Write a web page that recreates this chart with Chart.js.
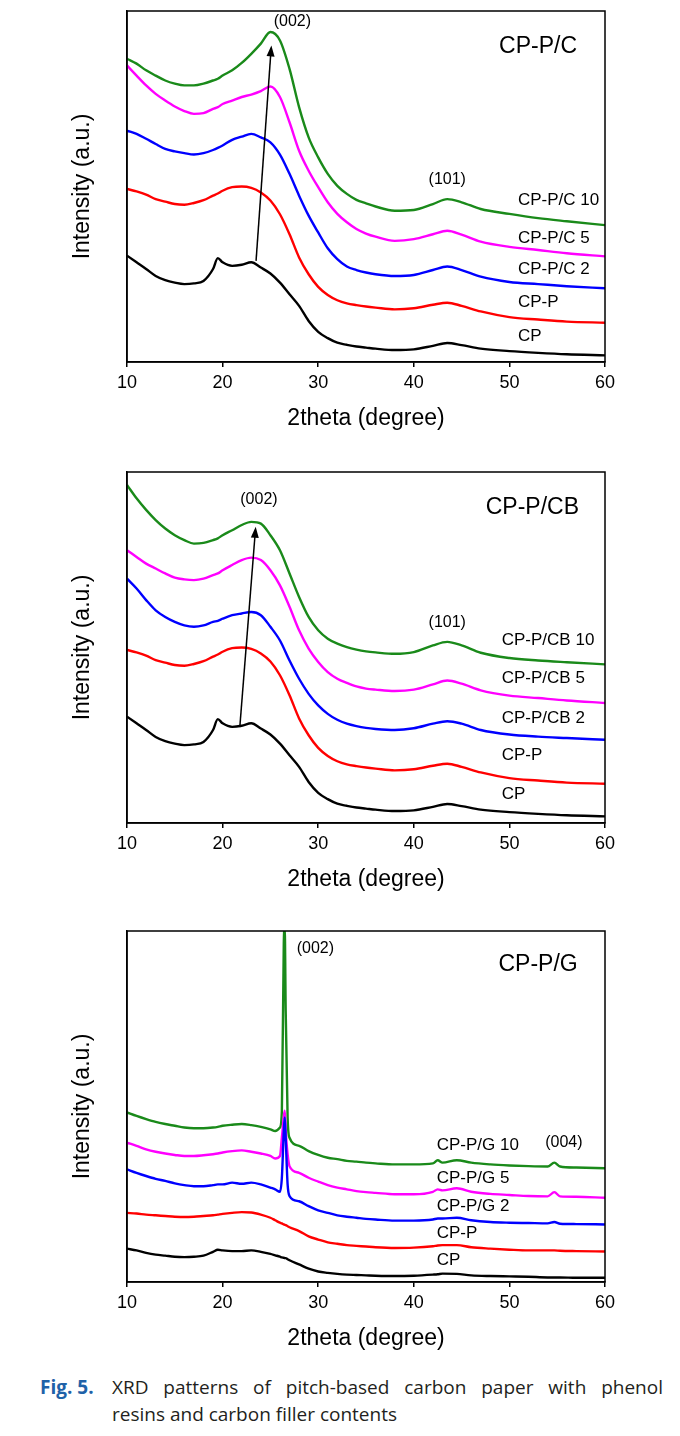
<!DOCTYPE html>
<html>
<head>
<meta charset="utf-8">
<script src="https://cdn.jsdelivr.net/npm/chart.js@4.4.1/dist/chart.umd.min.js"></script>
<style>
  html, body { margin: 0; padding: 0; background: #fff; }
  body { width: 680px; height: 1436px; position: relative; overflow: hidden; }
  .panel { position: absolute; left: 0; width: 680px; height: 440px; }
  .cap { position: absolute; font-family: "Open Sans", "Noto Sans", sans-serif; font-size: 19px; color: #231f20; white-space: nowrap; line-height: 22px; }
  .fig { left: 40px; top: 1376px; color: #1f62a8; font-weight: bold; }
  .line1 { left: 112px; top: 1376px; width: 551px; white-space: normal; text-align: justify; text-align-last: justify; }
  .line2 { left: 112px; top: 1403px; }
</style>
</head>
<body>
<div class="panel" style="top:0px"><canvas id="chartC" width="680" height="440"></canvas></div>
<div class="panel" style="top:461px"><canvas id="chartCB" width="680" height="440"></canvas></div>
<div class="panel" style="top:920px"><canvas id="chartG" width="680" height="440"></canvas></div>
<div class="cap fig">Fig. 5.</div>
<div class="cap line1">XRD patterns of pitch-based carbon paper with phenol</div>
<div class="cap line2">resins and carbon filler contents</div>

<script>
// ---------- data (intensity in arbitrary units, 0-100 per panel) ----------
const xTicks = [10, 20, 30, 40, 50, 60];

// 2theta grid for the CP-P/C and CP-P/CB panels
const theta = [10, 11, 12, 13, 14, 15, 16, 17, 18, 19, 19.5, 20, 21, 22, 23, 24, 25, 26, 27, 28,
  29, 30, 31, 32, 33, 34, 35, 36, 38, 40, 42, 43.5, 45, 47, 50, 53, 56, 60];

const cp = [30.3, 28.4, 26.5, 24.5, 23.3, 22.6, 22.2, 22.4, 23.1, 26.5, 29.6, 28.4, 27.4, 27.7, 28.4, 26.9, 25.2, 22.6, 19.3, 16.0,
  11.7, 8.6, 6.8, 5.5, 4.9, 4.4, 4.1, 3.8, 3.4, 3.6, 4.6, 5.4, 4.8, 3.8, 3.1, 2.6, 2.2, 1.9];
const cpP = [49.3, 48.6, 47.7, 46.4, 45.7, 45.0, 44.8, 45.3, 46.1, 47.4, 48.0, 48.8, 49.8, 50.0, 49.6, 48.3, 46.0, 42.1, 36.4, 29.8,
  25.0, 21.4, 19.1, 17.6, 16.7, 16.2, 15.8, 15.5, 15.0, 15.3, 16.3, 16.9, 16.0, 14.4, 12.8, 12.1, 11.5, 11.2];

const cpPC2 = [65.9, 65.0, 63.6, 62.1, 60.7, 60.0, 59.5, 59.1, 59.5, 60.4, 61.0, 61.7, 63.3, 64.2, 65.0, 64.0, 62.6, 59.1, 53.6, 47.4,
  41.7, 36.9, 32.4, 29.3, 27.2, 26.2, 25.5, 25.0, 24.5, 24.8, 26.2, 27.2, 26.2, 24.3, 22.8, 22.2, 21.6, 21.0];
const cpPC5 = [84.5, 81.6, 78.8, 76.4, 74.5, 72.8, 71.5, 70.7, 70.9, 72.1, 72.6, 73.5, 74.5, 75.5, 76.2, 77.2, 78.5, 75.5, 68.3, 60.2,
  54.5, 49.8, 45.5, 42.2, 39.8, 37.9, 36.6, 35.7, 34.5, 35.0, 36.4, 37.4, 36.3, 34.3, 32.8, 31.9, 31.0, 30.1];
const cpPC10 = [86.4, 85.0, 83.1, 81.6, 80.2, 79.3, 78.8, 78.8, 79.3, 80.2, 80.7, 81.6, 83.1, 85.2, 87.8, 90.7, 94.0, 91.6, 83.5, 72.6,
  64.0, 58.3, 53.6, 50.2, 47.9, 46.2, 45.2, 44.3, 43.1, 43.3, 45.0, 46.4, 45.5, 43.6, 42.2, 41.0, 40.1, 39.0];

const cpPCB2 = [69.6, 66.8, 63.5, 60.6, 58.7, 57.3, 56.3, 55.9, 56.3, 57.3, 57.6, 58.2, 59.2, 59.7, 60.1, 59.2, 55.9, 52.0, 46.3, 41.1,
  36.8, 33.5, 31.1, 29.4, 28.3, 27.6, 27.1, 26.8, 26.5, 27.0, 28.3, 29.0, 28.3, 26.5, 25.2, 24.6, 24.2, 23.7];
const cpPCB5 = [77.7, 75.8, 73.9, 72.5, 71.1, 69.9, 69.4, 69.2, 69.6, 70.6, 71.1, 72.0, 73.5, 74.9, 75.6, 74.9, 72.0, 67.7, 61.6, 54.9,
  49.7, 45.9, 43.0, 41.1, 39.9, 38.9, 38.3, 38.0, 37.6, 38.0, 39.5, 40.6, 39.7, 37.8, 36.3, 35.6, 34.9, 34.2];
const cpPCB10 = [96.3, 92.5, 89.2, 86.3, 83.9, 82.0, 80.6, 79.6, 79.8, 80.6, 81.1, 82.0, 83.4, 84.9, 85.8, 85.3, 82.0, 77.7, 71.1, 64.4,
  58.7, 54.9, 52.5, 51.1, 50.1, 49.4, 48.9, 48.6, 48.2, 48.7, 50.6, 51.6, 50.6, 48.5, 47.0, 46.3, 45.8, 45.2];

// 2theta grid for the CP-P/G panel (finer round the sharp graphite peak)
const thetaG = [10, 11, 12, 13, 14, 15, 16, 17, 18, 19, 19.5, 20, 21, 22, 23, 24, 25, 25.5, 26, 26.2,
  26.4, 26.5, 26.6, 26.8, 27, 28, 29, 30, 31, 32, 33, 34, 35, 36, 38, 40, 42, 42.5, 43, 44.5,
  46, 48, 50, 52, 54, 54.7, 55.3, 57, 60];

const cpG = [9.5, 9.0, 8.3, 7.8, 7.5, 7.2, 7.1, 7.2, 7.5, 8.6, 9.2, 9.0, 8.8, 8.8, 9.0, 8.6, 8.0, 7.6, 7.2, 7.0,
  6.9, 6.8, 6.8, 6.5, 6.2, 5.0, 3.8, 3.0, 2.6, 2.3, 2.1, 2.0, 1.9, 1.8, 1.7, 1.8, 2.1, 2.2, 2.4, 2.3,
  1.9, 1.7, 1.6, 1.5, 1.3, 1.3, 1.3, 1.2, 1.2];
const cpPG = [19.7, 19.5, 19.2, 19.0, 18.8, 18.6, 18.5, 18.6, 18.8, 19.0, 19.2, 19.4, 19.7, 19.9, 19.8, 19.2, 18.3, 17.6, 16.9, 16.7,
  16.4, 16.3, 16.2, 15.9, 15.6, 14.5, 13.0, 12.1, 11.3, 10.9, 10.5, 10.3, 10.1, 9.9, 9.7, 9.8, 10.2, 10.4, 10.5, 10.5,
  9.9, 9.5, 9.2, 9.0, 9.0, 9.0, 8.9, 8.8, 8.7];
const cpPG2 = [32.1, 31.1, 30.2, 29.4, 28.8, 28.1, 27.6, 27.3, 27.3, 27.6, 27.8, 27.8, 28.3, 28.0, 28.3, 27.8, 26.9, 26.4, 25.7, 29.7,
  43.0, 46.9, 41.1, 27.8, 24.5, 23.0, 21.6, 20.4, 19.7, 19.0, 18.6, 18.3, 18.0, 17.8, 17.5, 17.5, 17.8, 18.1, 18.1, 18.3,
  17.6, 17.1, 16.9, 16.8, 16.7, 17.1, 16.6, 16.5, 16.4];
const cpPG5 = [39.7, 38.8, 37.8, 37.1, 36.6, 36.2, 35.9, 35.9, 36.1, 36.4, 36.6, 36.9, 37.3, 37.5, 37.1, 36.6, 35.9, 35.2, 35.9, 41.1,
  47.0, 48.8, 43.0, 36.4, 33.0, 31.1, 29.7, 28.6, 27.6, 26.9, 26.4, 25.9, 25.6, 25.4, 25.0, 25.0, 25.7, 26.4, 26.1, 26.7,
  25.7, 25.1, 24.8, 24.5, 24.4, 25.6, 24.4, 24.3, 24.0];
const cpPG10 = [48.3, 47.3, 46.4, 45.6, 45.0, 44.5, 44.0, 43.8, 43.8, 44.0, 44.2, 44.5, 44.8, 45.0, 44.7, 44.2, 43.5, 43.0, 44.0, 48.8,
  96.4, 101, 77.3, 46.9, 41.1, 38.8, 37.3, 36.2, 35.4, 35.0, 34.5, 34.3, 34.0, 33.8, 33.5, 33.5, 33.8, 34.7, 34.0, 34.7,
  34.0, 33.5, 33.2, 33.0, 32.9, 34.0, 32.9, 32.6, 32.4];

const colors = ["#000000", "#ff0000", "#0000ff", "#ff00ff", "#1a8a1a"];
const namesC = ["CP", "CP-P", "CP-P/C 2", "CP-P/C 5", "CP-P/C 10"];
const namesCB = ["CP", "CP-P", "CP-P/CB 2", "CP-P/CB 5", "CP-P/CB 10"];
const namesG = ["CP", "CP-P", "CP-P/G 2", "CP-P/G 5", "CP-P/G 10"];

// ---------- drawing ----------
const FONT = "'Liberation Sans', Arial, sans-serif";

// box round the plot, text notes and the shift arrow
const notesPlugin = {
  id: "notes",
  afterDatasetsDraw(chart, args, opts) {
    const { ctx, chartArea: a } = chart;
    const x = chart.scales.x, y = chart.scales.y;
    ctx.save();
    ctx.strokeStyle = "#000";
    ctx.lineWidth = 1.5;
    ctx.strokeRect(a.left, a.top, a.right - a.left, a.bottom - a.top);
    ctx.fillStyle = "#000";
    ctx.textBaseline = "middle";
    opts.texts.forEach(t => {
      ctx.font = t.size + "px " + FONT;
      ctx.textAlign = t.align || "center";
      ctx.fillText(t.text, x.getPixelForValue(t.at[0]), y.getPixelForValue(t.at[1]));
    });
    if (opts.arrow) {
      const x0 = x.getPixelForValue(opts.arrow[0][0]), y0 = y.getPixelForValue(opts.arrow[0][1]);
      const x1 = x.getPixelForValue(opts.arrow[1][0]), y1 = y.getPixelForValue(opts.arrow[1][1]);
      const ang = Math.atan2(y1 - y0, x1 - x0);
      ctx.beginPath();
      ctx.moveTo(x0, y0);
      ctx.lineTo(x1 - 8 * Math.cos(ang), y1 - 8 * Math.sin(ang));
      ctx.stroke();
      ctx.beginPath();
      ctx.moveTo(x1, y1);
      ctx.lineTo(x1 - 11 * Math.cos(ang) + 4 * Math.sin(ang), y1 - 11 * Math.sin(ang) - 4 * Math.cos(ang));
      ctx.lineTo(x1 - 11 * Math.cos(ang) - 4 * Math.sin(ang), y1 - 11 * Math.sin(ang) + 4 * Math.cos(ang));
      ctx.closePath();
      ctx.fill();
    }
    ctx.restore();
  }
};

function makeChart(id, xs, series, names, notes) {
  return new Chart(document.getElementById(id), {
    type: "line",
    data: {
      datasets: series.map((vals, i) => ({
        label: names[i],
        data: xs.map((t, j) => ({ x: t, y: vals[j] })),
        borderColor: colors[i],
        borderWidth: 2.4,
        pointRadius: 0,
        cubicInterpolationMode: "monotone",
        fill: false,
      })),
    },
    options: {
      responsive: false,
      animation: false,
      events: [],
      layout: { padding: { left: 0, top: 11, right: 75, bottom: 0 } },
      plugins: { legend: { display: false }, tooltip: { enabled: false }, notes: notes },
      scales: {
        x: {
          type: "linear",
          min: 10,
          max: 60,
          afterBuildTicks: s => { s.ticks = xTicks.map(v => ({ value: v })); },
          afterFit: s => { s.height = 78; },
          border: { color: "#000", width: 1.5 },
          grid: { drawOnChartArea: false, drawTicks: true, tickLength: 5, color: "#000", lineWidth: 1.5 },
          ticks: { color: "#000", font: { family: FONT, size: 18 }, padding: 5, maxRotation: 0 },
          title: { display: true, text: "2theta (degree)", color: "#000", font: { family: FONT, size: 23 }, padding: { top: 0, bottom: 8 } },
        },
        y: {
          min: 0,
          max: 100,
          afterFit: s => { s.width = 127; },
          border: { color: "#000", width: 1.5 },
          grid: { display: false },
          ticks: { display: false },
          title: { display: true, text: "Intensity (a.u.)", color: "#000", font: { family: FONT, size: 23 }, padding: { top: 69, bottom: 0 } },
        },
      },
    },
    plugins: [notesPlugin],
  });
}

makeChart("chartC", theta, [cp, cpP, cpPC2, cpPC5, cpPC10], namesC, {
  texts: [
    { text: "CP-P/C", at: [53.0, 89.7], size: 23 },
    { text: "(002)", at: [27.3, 96.9], size: 16 },
    { text: "(101)", at: [43.5, 51.9], size: 16 },
    { text: namesC[4], at: [50.9, 46.2], size: 17, align: "left" },
    { text: namesC[3], at: [50.9, 35.3], size: 17, align: "left" },
    { text: namesC[2], at: [50.9, 26.5], size: 17, align: "left" },
    { text: namesC[1], at: [50.9, 17.1], size: 17, align: "left" },
    { text: namesC[0], at: [50.9, 7.4], size: 17, align: "left" },
  ],
  arrow: [[23.5, 28.8], [25.1, 90.2]],
});

makeChart("chartCB", theta, [cp, cpP, cpPCB2, cpPCB5, cpPCB10], namesCB, {
  texts: [
    { text: "CP-P/CB", at: [52.4, 89.7], size: 23 },
    { text: "(002)", at: [23.8, 92.0], size: 16 },
    { text: "(101)", at: [43.5, 57.1], size: 16 },
    { text: namesCB[4], at: [49.2, 52.0], size: 17, align: "left" },
    { text: namesCB[3], at: [49.2, 41.1], size: 17, align: "left" },
    { text: namesCB[2], at: [49.2, 29.7], size: 17, align: "left" },
    { text: namesCB[1], at: [49.2, 19.4], size: 17, align: "left" },
    { text: namesCB[0], at: [49.2, 8.3], size: 17, align: "left" },
  ],
  arrow: [[21.8, 27.3], [23.46, 84.4]],
});

makeChart("chartG", thetaG, [cpG, cpPG, cpPG2, cpPG5, cpPG10], namesG, {
  texts: [
    { text: "CP-P/G", at: [53.0, 90.3], size: 23 },
    { text: "(002)", at: [29.7, 95.1], size: 16 },
    { text: "(004)", at: [55.7, 39.8], size: 16 },
    { text: namesG[4], at: [42.4, 38.9], size: 17, align: "left" },
    { text: namesG[3], at: [42.4, 29.5], size: 17, align: "left" },
    { text: namesG[2], at: [42.4, 21.5], size: 17, align: "left" },
    { text: namesG[1], at: [42.4, 13.9], size: 17, align: "left" },
    { text: namesG[0], at: [42.4, 6.3], size: 17, align: "left" },
  ],
});
</script>
</body>
</html>
